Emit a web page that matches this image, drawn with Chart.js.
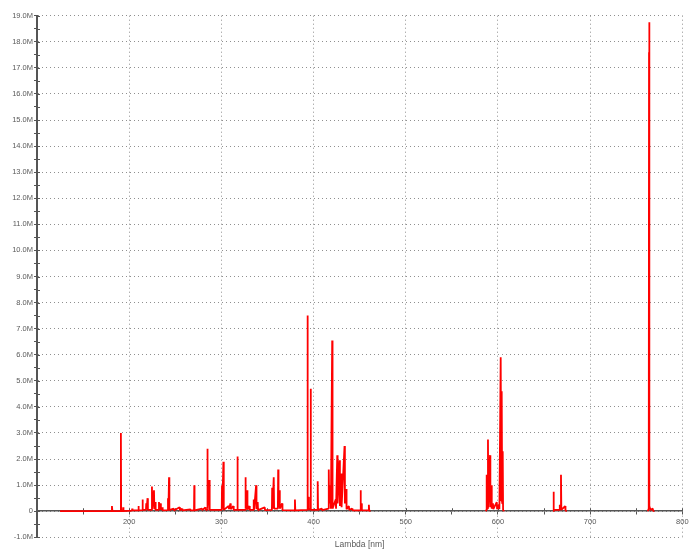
<!DOCTYPE html>
<html>
<head>
<meta charset="utf-8">
<script src="https://cdn.jsdelivr.net/npm/chart.js@4/dist/chart.umd.min.js"></script>
<style>
  html, body { margin: 0; padding: 0; background: #ffffff; }
  #c { display: block; }
</style>
</head>
<body>
<canvas id="c" width="700" height="553"></canvas>
<script>
// Wavelength (nm) of each point of the red spectrum trace; null-valued intensities mark gaps in the trace
const lambdaNm = [
  125, 180.8, 181.3, 181.8, 190.7, 191.0, 191.3, 193.2, 193.5, 193.8,
  203.0, 203.3, 203.6, 209.8, 210.1, 210.4, 214.2, 214.5, 214.8, 218.2,
  218.5, 218.9, 219.9, 220.3, 224.4, 224.7, 225.0, 226.9, 227.3, 228.3,
  228.7, 232.0, 232.3, 232.7, 234.0, 234.4, 235.9, 236.3, 241.8, 242.1,
  242.6, 243.2, 243.6, 248.2, 248.6, 254.7, 255.1, 257.3, 257.7, 266.3,
  266.7, 270.3, 270.6, 270.9, 279.0, 279.4, 282.6, 283.0, 284.5, 284.8,
  285.2, 286.9, 287.3, 300.4, 300.7, 301.0, 302.2, 302.6, 307.9, 308.3,
  309.8, 310.2, 313.0, 313.4, 317.1, 317.4, 317.8, 325.8, 326.1, 326.5,
  327.9, 328.3, 330.4, 330.8, 334.8, 335.1, 335.5, 337.7, 338.1, 339.4,
  339.8, 347.0, 347.4, 354.8, 355.1, 355.5, 356.8, 357.2, 361.3, 361.6,
  362.0, 363.0, 363.4, 365.9, 366.3, 379.5, 379.8, 380.2, 393.1, 393.4,
  393.8, 394.5, 394.9, 396.5, 396.8, 397.2, 404.2, 404.5, 404.9, 409.0,
  409.4, 416.2, 416.5, 416.9, 418.4, 418.8, 420.2, 420.6, 424.0, 424.4,
  425.7, 426.1, 428.2, 428.6, 430.0, 430.4, 433.6, 434.0, 435.4, 435.8,
  438.3, 438.7, 441.9, 442.3, 450.7, 451.0, 451.4, 452.0, 452.4, 459.7,
  460.0, 460.4, 461.8,
  520,
  586.7, 587.5, 587.8, 588.2, 589.2, 589.6, 591.4, 591.8, 592.9, 593.3,
  594.6, 595.0, 598.7, 599.1, 601.2, 601.6, 603.0, 603.6, 604.1, 604.6,
  605.2, 605.6, 606.3,
  630,
  660.0, 660.3, 660.7, 666.8, 667.1, 667.5, 668.4, 668.8, 672.9, 673.3,
  674.7,
  720,
  762.5, 763.6, 763.9, 764.1, 764.4, 765.5, 767.8, 768.5, 769.2
];

// Intensity in millions of counts, one per wavelength above
const intensityM = [
  0, 0, 0.2, 0, 0, 3.0, 0, 0, 0.15, 0,
  0.02, 0.1, 0.03, 0.03, 0.2, 0.03, 0.04, 0.45, 0.05, 0.05,
  0.3, 0.08, 0.5, 0.05, 0.05, 0.95, 0.1, 0.8, 0.08, 0.35,
  0.05, 0.05, 0.35, 0.06, 0.3, 0.05, 0.15, 0.03, 0.04, 0.5,
  0.1, 1.3, 0.04, 0.1, 0.03, 0.15, 0.04, 0.1, 0.03, 0.07,
  0.03, 0.03, 1.0, 0.03, 0.1, 0.04, 0.15, 0.05, 0.05, 2.4,
  0.1, 1.2, 0.05, 0.05, 1.0, 0.1, 1.9, 0.05, 0.2, 0.08,
  0.3, 0.08, 0.2, 0.05, 0.05, 2.1, 0.05, 0.05, 1.3, 0.1,
  0.8, 0.06, 0.2, 0.05, 0.05, 0.45, 0.06, 1.0, 0.08, 0.35,
  0.04, 0.15, 0.04, 0.05, 0.9, 0.1, 1.3, 0.1, 0.1, 1.6,
  0.15, 0.8, 0.1, 0.3, 0.04, 0.03, 0.45, 0.03, 0.05, 7.5,
  0.2, 0.55, 0.05, 0.1, 4.7, 0.05, 0.05, 1.15, 0.05, 0.1,
  0.04, 0.1, 1.6, 0.3, 1.0, 0.1, 6.55, 0.1, 0.45, 0.1,
  2.15, 0.3, 1.95, 0.2, 1.45, 0.15, 2.5, 0.3, 0.85, 0.08,
  0.2, 0.05, 0.1, 0.03, 0.03, 0.8, 0.05, 0.3, 0.03, 0.03,
  0.25, 0.02, 0,
  null,
  0, 0.05, 1.4, 0.1, 2.75, 0.15, 2.15, 0.15, 1.0, 0.1,
  0.3, 0.08, 0.35, 0.08, 0.25, 0.08, 5.9, 0.4, 4.6, 0.3,
  2.3, 0.05, 0,
  null,
  0, 0.75, 0.05, 0.05, 0.25, 0.08, 1.4, 0.05, 0.2, 0.03,
  0,
  null,
  0, 0.1, 17.6, 18.75, 0.2, 0.05, 0.1, 0.02, 0
];

// Axis ranges and tick steps
const xRange = [100, 800];
const xMajorStep = 100;
const xMinorStep = 50;
const yRangeM = [-1, 19];
const yMajorStepM = 1;
const yMinorStepM = 0.5;
const xTitle = 'Lambda [nm]';

const FONT = 'Liberation Sans, Arial, sans-serif';
const TEXT = '#5a5a5a';
const AXIS = '#555555';
const GRID = '#8f8f8f';

const points = lambdaNm.map((x, i) => ({ x: x, y: intensityM[i] === null ? null : intensityM[i] * 1e6 }));

const isMult = (v, step) => Math.abs(v / step - Math.round(v / step)) < 1e-6;

const crossTicks = {
  id: 'crossTicks',
  beforeDatasetsDraw(chart) {
    const { ctx, scales } = chart;
    const xs = scales.x, ys = scales.y;
    const y0 = ys.getPixelForValue(0);
    const x0 = xs.getPixelForValue(xRange[0]);
    ctx.save();
    ctx.strokeStyle = AXIS;
    ctx.lineWidth = 1;
    xs.ticks.forEach(t => {
      const px = Math.round(xs.getPixelForValue(t.value)) + 0.5;
      ctx.beginPath(); ctx.moveTo(px, y0 - 3); ctx.lineTo(px, y0); ctx.stroke();
    });
    ys.ticks.forEach(t => {
      const py = Math.round(ys.getPixelForValue(t.value)) + 0.5;
      ctx.beginPath(); ctx.moveTo(x0, py); ctx.lineTo(x0 + 3, py); ctx.stroke();
    });
    ctx.restore();
  }
};

new Chart(document.getElementById('c'), {
  type: 'line',
  data: {
    datasets: [{
      data: points,
      borderColor: '#ff0000',
      backgroundColor: '#ff0000',
      borderWidth: 1.8,
      borderJoinStyle: 'bevel',
      pointRadius: 0,
      tension: 0,
      spanGaps: false,
      fill: false
    }]
  },
  options: {
    responsive: false,
    animation: false,
    devicePixelRatio: 1,
    parsing: true,
    layout: { padding: { top: 15.7, right: 17.7, bottom: 0, left: 0 } },
    plugins: {
      legend: { display: false },
      tooltip: { enabled: false },
      title: {
        display: true,
        fullSize: false,
        text: xTitle,
        position: 'bottom',
        color: TEXT,
        font: { family: FONT, size: 8.5, weight: 'normal' },
        padding: { top: 2.5, bottom: 3 }
      }
    },
    scales: {
      x: {
        type: 'linear',
        position: { y: 0 },
        min: xRange[0],
        max: xRange[1],
        grid: {
          color: c => (c.tick && isMult(c.tick.value, xMajorStep) ? GRID : 'rgba(0,0,0,0)'),
          lineWidth: 1,
          tickColor: AXIS,
          tickLength: 3,
          tickWidth: 1
        },
        border: { display: true, color: AXIS, width: 1.5, dash: [1, 3] },
        ticks: {
          stepSize: xMinorStep,
          maxTicksLimit: 100,
          autoSkip: false,
          maxRotation: 0,
          minRotation: 0,
          padding: 3,
          color: TEXT,
          font: { family: FONT, size: 7.5 },
          callback: v => (isMult(v, xMajorStep) && v > xRange[0]) ? String(v) : ''
        }
      },
      y: {
        type: 'linear',
        position: 'left',
        min: yRangeM[0] * 1e6,
        max: yRangeM[1] * 1e6,
        afterFit: s => { s.width = 37; },
        grid: {
          color: c => (c.tick && isMult(c.tick.value, yMajorStepM * 1e6) ? GRID : 'rgba(0,0,0,0)'),
          lineWidth: 1,
          tickColor: AXIS,
          tickLength: 3,
          tickWidth: 1
        },
        border: { display: true, color: AXIS, width: 2, dash: [1, 3] },
        ticks: {
          stepSize: yMinorStepM * 1e6,
          maxTicksLimit: 100,
          autoSkip: false,
          padding: 1,
          color: TEXT,
          font: { family: FONT, size: 7.5 },
          callback: v => {
            if (!isMult(v, yMajorStepM * 1e6)) return '';
            const m = Math.round(v / 1e6);
            return m === 0 ? '0' : m.toFixed(1) + 'M';
          }
        }
      }
    }
  },
  plugins: [crossTicks]
});
</script>
</body>
</html>
